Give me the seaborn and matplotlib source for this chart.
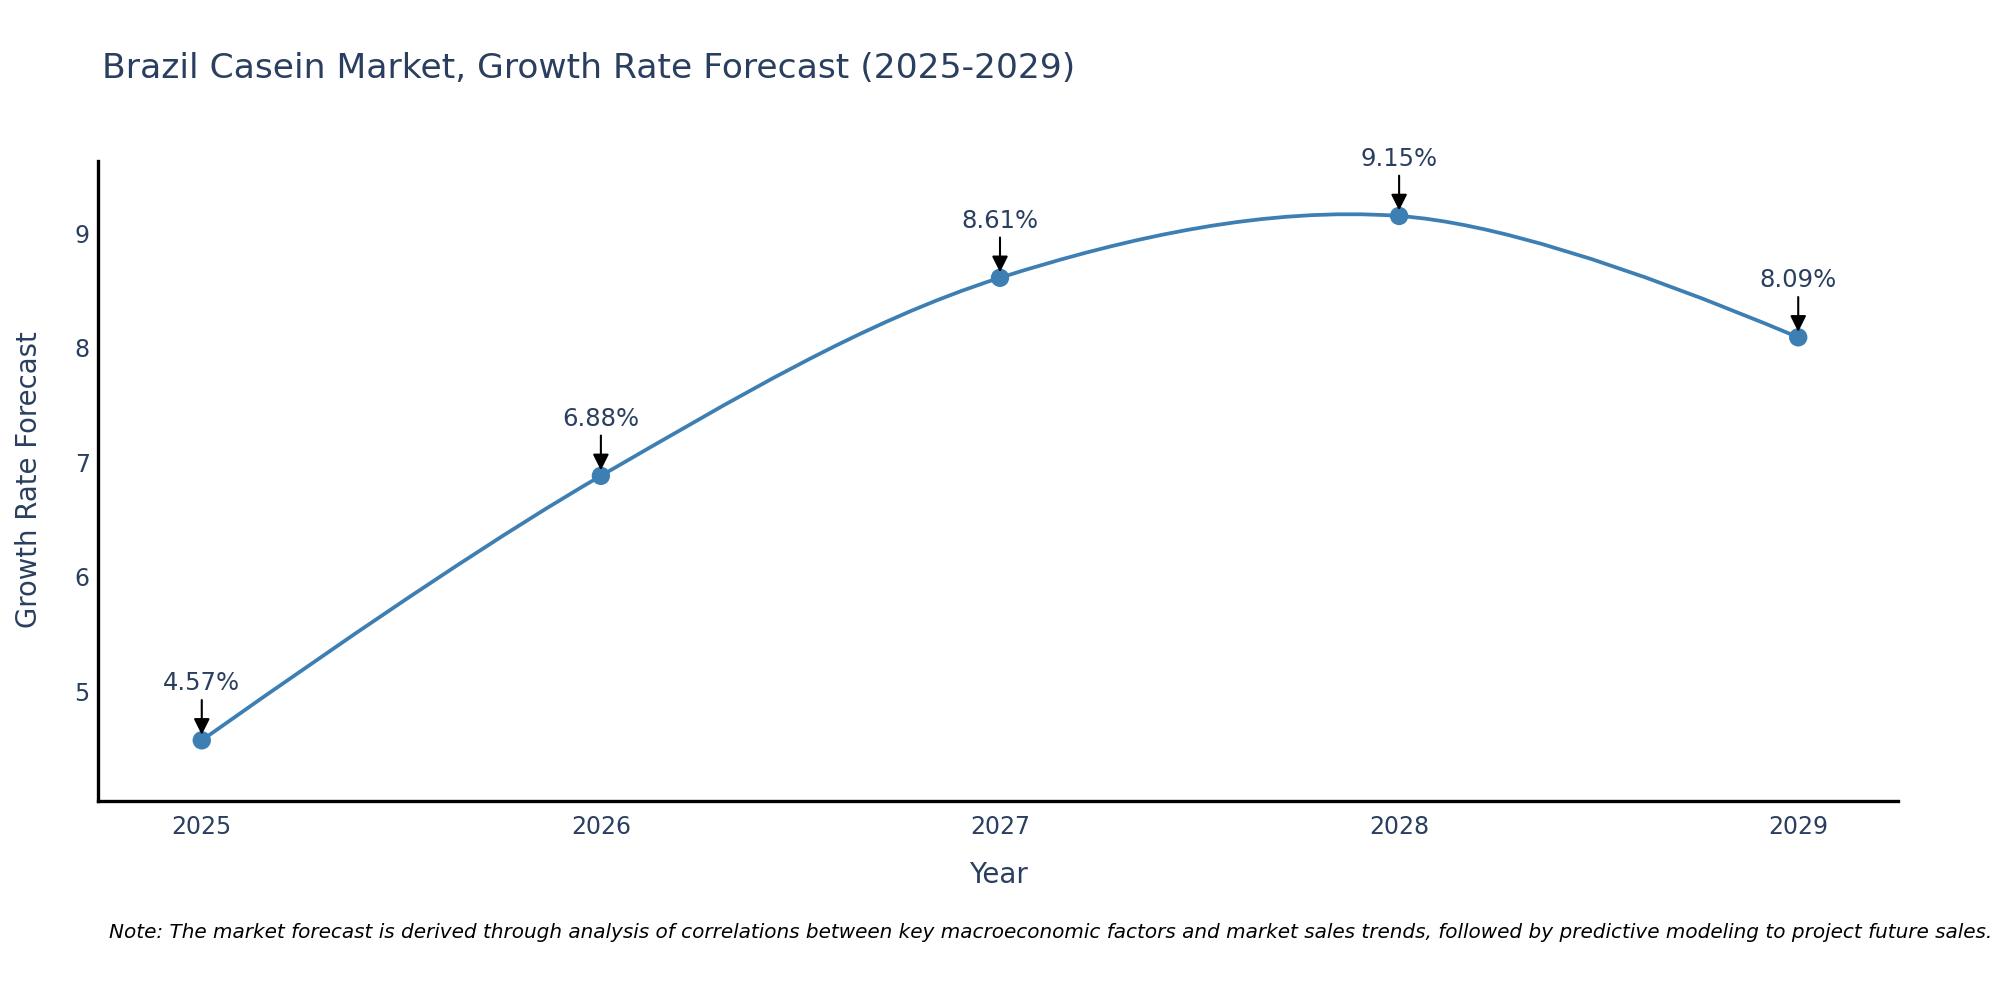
import numpy as np
import pandas as pd
import matplotlib
matplotlib.use('Agg')
import matplotlib.pyplot as plt
from matplotlib.path import Path
from matplotlib.patches import PathPatch
import seaborn as sns

# data
years = [2025, 2026, 2027, 2028, 2029]
growth = [4.57, 6.88, 8.61, 9.15, 8.09]
point_labels = ['4.57%', '6.88%', '8.61%', '9.15%', '8.09%']

title = 'Brazil Casein Market, Growth Rate Forecast (2025-2029)'
note = ('Note: The market forecast is derived through analysis of correlations between key '
        'macroeconomic factors and market sales trends, followed by predictive modeling to project future sales.')

df = pd.DataFrame({'Year': years, 'Growth': growth})

sns.set_theme(style='white')
plt.rcParams['font.family'] = ['DejaVu Sans']

text_color = '#2a3f5f'
line_color = '#3d7fb3'

fig = plt.figure(figsize=(20, 10), dpi=100)
ax = fig.add_axes([0.049, 0.199, 0.9, 0.64])
ax.set_xlim(2024.74, 2029.25)
ax.set_ylim(4.04, 9.63)


# smooth line like plotly spline (catmull-rom tangents in pixel space)
def make_tangent(p0, p1, p2, smooth=1.0):
    d1 = p0 - p1
    d2 = p2 - p1
    d1a = np.hypot(*d1) ** 0.5
    d2a = np.hypot(*d2) ** 0.5
    num = (d2a * d2a * d1 - d1a * d1a * d2) * smooth
    den1 = 3 * d2a * (d1a + d2a)
    den2 = 3 * d1a * (d1a + d2a)
    return p1 + num / den1, p1 - num / den2


pts = ax.transData.transform(np.column_stack([years, growth]))
tans = [make_tangent(pts[i - 1], pts[i], pts[i + 1]) for i in range(1, len(pts) - 1)]
verts = [pts[0], tans[0][0], pts[1]]
codes = [Path.MOVETO, Path.CURVE3, Path.CURVE3]
for i in range(2, len(pts) - 1):
    verts += [tans[i - 2][1], tans[i - 1][0], pts[i]]
    codes += [Path.CURVE4] * 3
verts += [tans[-1][1], pts[-1]]
codes += [Path.CURVE3] * 2
verts = ax.transData.inverted().transform(np.array(verts))
ax.add_patch(PathPatch(Path(verts, codes), facecolor='none', edgecolor=line_color,
                       lw=2.7, zorder=2))

sns.scatterplot(data=df, x='Year', y='Growth', ax=ax, s=175, color=line_color,
                edgecolor='none', zorder=3, legend=False)

for x, y, lab in zip(years, growth, point_labels):
    ax.annotate('', xy=(x, y), xytext=(0, 29), textcoords='offset points',
                arrowprops=dict(arrowstyle='-|>', color='black', lw=1.5,
                                mutation_scale=24, shrinkA=0, shrinkB=4), zorder=4)
    ax.annotate(lab, xy=(x, y), xytext=(0, 36), textcoords='offset points',
                ha='center', va='baseline', fontsize=17.5, color=text_color)

ax.set_xticks(years)
ax.set_xticklabels([str(y) for y in years])
ax.set_yticks([5, 6, 7, 8, 9])
ax.tick_params(axis='both', length=0, labelsize=17, labelcolor=text_color)
ax.tick_params(axis='y', pad=6)
ax.tick_params(axis='x', pad=10)
ax.set_xlabel('')
ax.set_ylabel('')

for side in ['top', 'right']:
    ax.spines[side].set_visible(False)
for side in ['left', 'bottom']:
    ax.spines[side].set_color('black')
    ax.spines[side].set_linewidth(2.4)

fig.text(0.051, 0.922, title, fontsize=24.8, color=text_color, ha='left', va='baseline')
fig.text(0.0145, 0.52, 'Growth Rate Forecast', rotation=90, fontsize=19.8,
         color=text_color, ha='center', va='center')
fig.text(0.499, 0.125, 'Year', fontsize=20, color=text_color, ha='center', va='center')
fig.text(0.996, 0.068, note, fontsize=14.4, style='italic', color='black',
         ha='right', va='center')

fig.savefig('out.png', dpi=100, facecolor='white')
